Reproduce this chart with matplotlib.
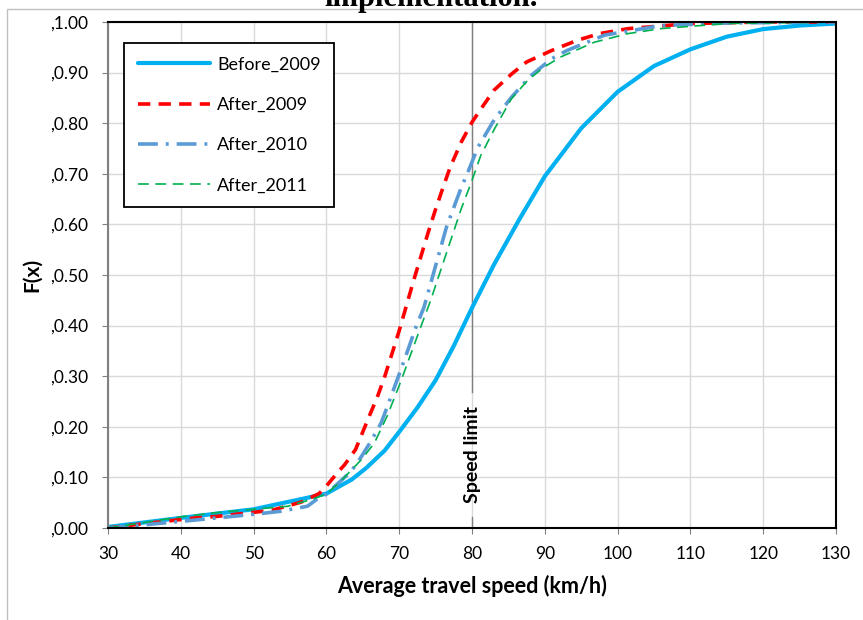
import matplotlib
matplotlib.use("Agg")
import matplotlib.pyplot as plt
from matplotlib.patches import Rectangle

# ---- data ----
before_x = [30, 40, 50, 56.5, 60, 63.5, 65.5, 68, 70, 72.5, 75, 77.5, 80, 83, 86.5, 90,
            95, 100, 105, 110, 115, 120, 125, 130]
before_2009 = [0.002, 0.02, 0.037, 0.057, 0.068, 0.096, 0.119, 0.153, 0.19, 0.238,
               0.292, 0.36, 0.435, 0.52, 0.61, 0.695, 0.79, 0.862, 0.913,
               0.946, 0.971, 0.986, 0.993, 0.997]

a09_x = [30, 34, 42, 45, 50, 52.5, 56.5, 59, 60, 61.5, 62.5, 64, 65, 66, 67, 68, 69,
         70, 71, 72, 74, 75, 76, 77, 78.5, 80, 81.7, 83, 85.5, 87.5, 91, 94.5, 97.5,
         101.5, 110, 120, 130]
after_2009 = [0.0, 0.007, 0.02, 0.023, 0.031, 0.035, 0.051, 0.068, 0.083, 0.109, 0.125,
              0.155, 0.19, 0.225, 0.259, 0.299, 0.344, 0.39, 0.44, 0.49, 0.585, 0.63,
              0.672, 0.713, 0.762, 0.802, 0.838, 0.865, 0.898, 0.921, 0.944, 0.964,
              0.977, 0.987, 0.997, 1.0, 1.0]

a10_x = [30, 40, 50, 53.7, 57.4, 58.8, 60, 63.4, 64.8, 66.1, 67.5, 68.4, 70.2, 71.1,
         72.3, 73.4, 76.5, 78.5, 79.4, 80.8, 83.1, 85.4, 88.1, 90.9, 93.1, 98.2, 106,
         115, 130]
after_2010 = [0.0, 0.013, 0.027, 0.033, 0.043, 0.058, 0.067, 0.112, 0.141, 0.171, 0.207,
              0.241, 0.312, 0.348, 0.397, 0.436, 0.595, 0.672, 0.702, 0.752, 0.808,
              0.851, 0.894, 0.927, 0.944, 0.974, 0.993, 0.998, 1.0]

a11_x = [30, 35, 40, 44.6, 50, 54.7, 58.3, 60, 62, 64.8, 66.6, 68.4, 70.2, 71.6, 72.95,
         74.3, 78.5, 79.9, 81.2, 83.1, 85.4, 87.6, 89.9, 92.2, 96.8, 101.4, 106, 115, 130]
after_2011 = [0.0, 0.011, 0.022, 0.030, 0.037, 0.043, 0.058, 0.067, 0.093, 0.135, 0.168,
              0.223, 0.289, 0.344, 0.397, 0.449, 0.63, 0.683, 0.736, 0.789, 0.848,
              0.884, 0.911, 0.931, 0.96, 0.977, 0.987, 0.997, 1.0]

series_labels = ['Before_2009', 'After_2009', 'After_2010', 'After_2011']
x_ticks = [30, 40, 50, 60, 70, 80, 90, 100, 110, 120, 130]
y_ticks = [0.0, 0.1, 0.2, 0.3, 0.4, 0.5, 0.6, 0.7, 0.8, 0.9, 1.0]
speed_limit = 80

plt.rcParams['font.family'] = ['Lato', 'DejaVu Sans']

fig = plt.figure(figsize=(8.63, 6.2), dpi=100)
ax = fig.add_axes([108/863, 92/620, 728/863, 506/620])

# outer chart border
fig.patches.append(Rectangle((7/863, -0.1), 1.2, 1.1 - 9/620, transform=fig.transFigure,
                             fill=False, edgecolor='#BFBFBF', linewidth=1.0))

fig.text(0.5, 1 - 6/620, "implementation.", ha='center', va='baseline',
         fontsize=22, fontweight='bold', family=['Liberation Serif', 'DejaVu Serif'])

ax.plot(before_x, before_2009, color='#00B0F0', lw=3.0, label=series_labels[0],
        solid_capstyle='round', solid_joinstyle='round')
ax.plot(a09_x, after_2009, color='#FF0000', lw=2.6, dashes=(3.4, 2.3), label=series_labels[1])
ax.plot(a10_x, after_2010, color='#5B9BD5', lw=2.6, dashes=(5.5, 2.2, 0.8, 2.2),
        label=series_labels[2])
ax.plot(a11_x, after_2011, color='#00B050', lw=1.2, dashes=(6.5, 3.9), label=series_labels[3])

ax.plot([speed_limit, speed_limit], [0.268, 1.0], color='#808080', lw=1.0, zorder=1)
ax.plot([speed_limit, speed_limit], [0.0, 0.022], color='#808080', lw=1.0, zorder=1)
ax.text(speed_limit, 0.145, 'Speed limit', rotation=90, ha='center', va='center',
        fontsize=14, fontweight='bold')

ax.set_xlim(30, 130)
ax.set_ylim(0, 1.0)
ax.set_xticks(x_ticks)
ax.set_yticks(y_ticks)
ax.set_yticklabels([',%.2f' % v for v in y_ticks])
ax.grid(True, color='#D9D9D9', lw=1.0)
ax.set_axisbelow(True)
ax.tick_params(axis='both', labelsize=12.5, direction='out', length=4, color='#808080')
ax.tick_params(axis='x', pad=9)
ax.tick_params(axis='y', pad=10)

for s in ['top', 'right', 'bottom']:
    ax.spines[s].set_color('black')
    ax.spines[s].set_linewidth(1.5)
ax.spines['left'].set_color('#808080')
ax.spines['left'].set_linewidth(1.5)

ax.set_xlabel('Average travel speed (km/h)', fontsize=15.5, fontweight='bold', labelpad=9)
ax.set_ylabel('F(x)', fontsize=15, fontweight='bold', labelpad=6)

leg = ax.legend(loc='upper left', bbox_to_anchor=(16/728, 1 - 21/506), fontsize=13,
                frameon=True, fancybox=False, edgecolor='black', handlelength=4.0,
                labelspacing=1.35, borderpad=0.75, handletextpad=0.4, borderaxespad=0)
leg.get_frame().set_linewidth(1.3)
leg.get_frame().set_alpha(1)

fig.savefig('out.png', dpi=100)
